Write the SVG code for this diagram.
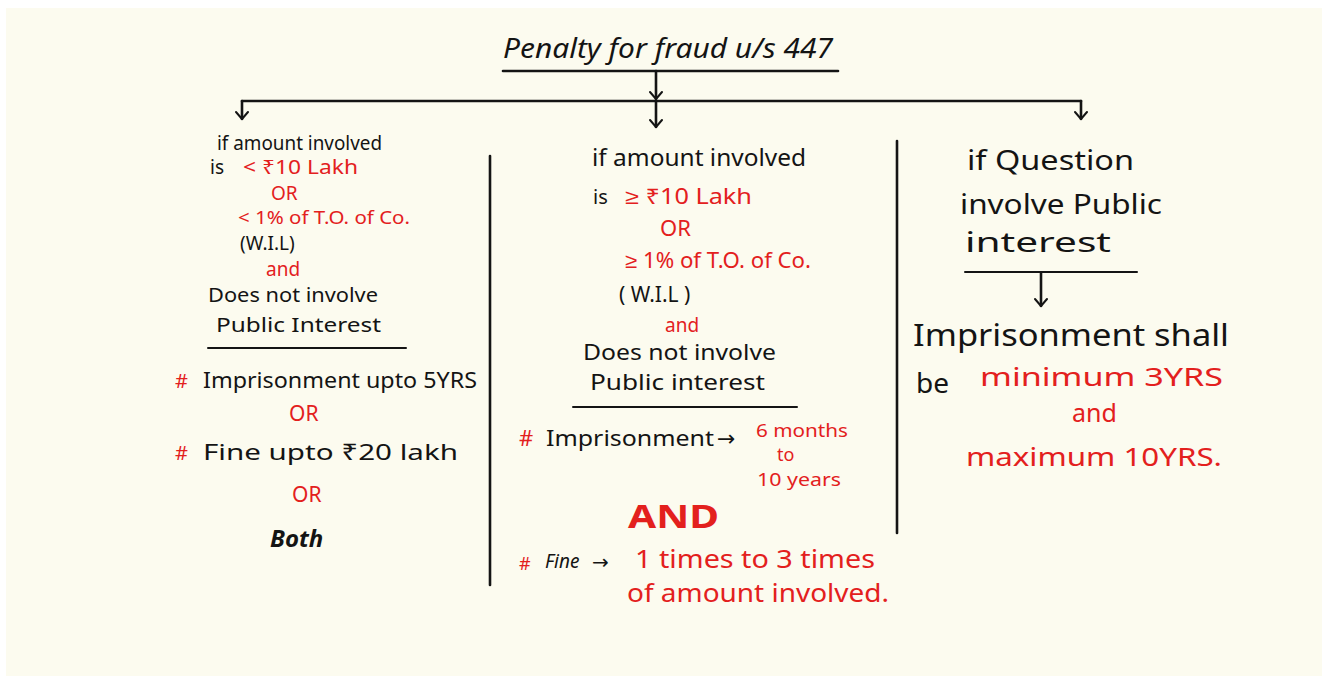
<svg xmlns="http://www.w3.org/2000/svg" width="1322" height="681" viewBox="0 0 1322 681">
  <defs>
    <style>
      text { font-family: "Noto Sans", "Liberation Sans", sans-serif; fill: #141414; }
      .r { fill: #e3201d; }
      .ar { font-family: "DejaVu Sans", sans-serif; }
      .line { stroke: #141414; stroke-width: 2.6; fill: none; stroke-linecap: round; }
      .thin { stroke: #141414; stroke-width: 2; fill: none; stroke-linecap: round; }
    </style>
    <marker id="arrv" viewBox="0 0 14 14" refX="7" refY="12" markerWidth="14" markerHeight="14" markerUnits="userSpaceOnUse" orient="0">
      <path d="M1 5 L7 12 L13 5" fill="none" stroke="#141414" stroke-width="2" stroke-linecap="round" stroke-linejoin="round"/>
    </marker>
  </defs>

  <rect x="0" y="0" width="1322" height="681" fill="#ffffff"/>
  <rect x="6" y="8" width="1316" height="668" fill="#fcfbef"/>

  <!-- title -->
  <g id="title">
    <text x="503" y="58" font-size="28" textLength="330" lengthAdjust="spacingAndGlyphs" font-style="italic">Penalty for fraud u/s 447</text>
    <line class="line" x1="503" y1="71" x2="838" y2="71"/>
  </g>

  <!-- connectors -->
  <g id="connectors">
    <line class="line" x1="656" y1="71" x2="656" y2="99" marker-end="url(#arrv)"/>
    <line class="line" x1="242" y1="101" x2="1081" y2="101"/>
    <line class="line" x1="242" y1="101" x2="242" y2="119" marker-end="url(#arrv)"/>
    <line class="line" x1="656" y1="101" x2="656" y2="127" marker-end="url(#arrv)"/>
    <line class="line" x1="1081" y1="101" x2="1081" y2="119" marker-end="url(#arrv)"/>
    <line class="line" x1="490" y1="156" x2="490" y2="585"/>
    <line class="line" x1="897" y1="141" x2="897" y2="533"/>
    <line class="line" x1="1041" y1="273" x2="1041" y2="306" marker-end="url(#arrv)"/>
  </g>

  <!-- left: below threshold -->
  <g id="left-node">
    <text x="217" y="150" font-size="19" textLength="165" lengthAdjust="spacingAndGlyphs">if amount involved</text>
    <text x="210" y="174" font-size="19">is</text>
    <text x="243" y="174" font-size="19" class="r" textLength="115" lengthAdjust="spacingAndGlyphs">&lt; ₹10 Lakh</text>
    <text x="271" y="200" font-size="19" class="r">OR</text>
    <text x="238" y="224" font-size="18" class="r" textLength="172" lengthAdjust="spacingAndGlyphs">&lt; 1% of T.O. of Co.</text>
    <text x="240" y="250" font-size="19">(W.I.L)</text>
    <text x="266" y="276" font-size="19" class="r">and</text>
    <text x="208" y="302" font-size="19" textLength="170" lengthAdjust="spacingAndGlyphs">Does not involve</text>
    <text x="216" y="332" font-size="19" textLength="165" lengthAdjust="spacingAndGlyphs">Public Interest</text>
    <line class="thin" x1="208" y1="348" x2="406" y2="348"/>
  </g>

  <g id="left-result">
    <text x="175" y="388" font-size="20" class="r">#</text>
    <text x="203" y="388" font-size="21" textLength="274" lengthAdjust="spacingAndGlyphs">Imprisonment upto 5YRS</text>
    <text x="289" y="421" font-size="21" class="r">OR</text>
    <text x="175" y="460" font-size="20" class="r">#</text>
    <text x="203" y="460" font-size="22" textLength="255" lengthAdjust="spacingAndGlyphs">Fine upto ₹20 lakh</text>
    <text x="292" y="502" font-size="21" class="r">OR</text>
    <text x="270" y="547" font-size="24" font-weight="bold" font-style="italic">Both</text>
  </g>

  <!-- middle: at or above threshold -->
  <g id="middle-node">
    <text x="592" y="166" font-size="23" textLength="214" lengthAdjust="spacingAndGlyphs">if amount involved</text>
    <text x="593" y="204" font-size="20">is</text>
    <text x="625" y="204" font-size="21" class="r" textLength="127" lengthAdjust="spacingAndGlyphs">≥ ₹10 Lakh</text>
    <text x="660" y="236" font-size="22" class="r">OR</text>
    <text x="625" y="268" font-size="21" class="r" textLength="186" lengthAdjust="spacingAndGlyphs">≥ 1% of T.O. of Co.</text>
    <text x="619" y="302" font-size="21">( W.I.L )</text>
    <text x="665" y="332" font-size="19" class="r">and</text>
    <text x="583" y="360" font-size="21" textLength="193" lengthAdjust="spacingAndGlyphs">Does not involve</text>
    <text x="590" y="390" font-size="21" textLength="175" lengthAdjust="spacingAndGlyphs">Public interest</text>
    <line class="thin" x1="573" y1="407" x2="797" y2="407"/>
  </g>

  <g id="middle-result">
    <text x="519" y="446" font-size="22" class="r">#</text>
    <text x="546" y="446" font-size="21" textLength="168" lengthAdjust="spacingAndGlyphs">Imprisonment</text>
    <text x="717" y="446" font-size="22" class="ar">→</text>
    <text x="756" y="437" font-size="18" class="r" textLength="92" lengthAdjust="spacingAndGlyphs">6 months</text>
    <text x="777" y="461" font-size="18" class="r">to</text>
    <text x="757" y="486" font-size="18" class="r" textLength="84" lengthAdjust="spacingAndGlyphs">10 years</text>
    <text x="628" y="528" font-size="33" font-weight="bold" class="r" textLength="91" lengthAdjust="spacingAndGlyphs">AND</text>
    <text x="519" y="570" font-size="18" class="r">#</text>
    <text x="545" y="568" font-size="19" font-style="italic">Fine</text>
    <text x="592" y="569" font-size="20" class="ar">→</text>
    <text x="635" y="568" font-size="25" class="r" textLength="240" lengthAdjust="spacingAndGlyphs">1 times to 3 times</text>
    <text x="627" y="602" font-size="25" class="r" textLength="262" lengthAdjust="spacingAndGlyphs">of amount involved.</text>
  </g>

  <!-- right: public interest -->
  <g id="right-node">
    <text x="967" y="170" font-size="28" textLength="167" lengthAdjust="spacingAndGlyphs">if Question</text>
    <text x="960" y="214" font-size="27" textLength="202" lengthAdjust="spacingAndGlyphs">involve Public</text>
    <text x="965" y="252" font-size="27" textLength="146" lengthAdjust="spacingAndGlyphs">interest</text>
    <line class="thin" x1="965" y1="272" x2="1137" y2="272"/>
  </g>

  <g id="right-result">
    <text x="913" y="346" font-size="30" textLength="316" lengthAdjust="spacingAndGlyphs">Imprisonment shall</text>
    <text x="916" y="393" font-size="28">be</text>
    <text x="980" y="386" font-size="25" class="r" textLength="243" lengthAdjust="spacingAndGlyphs">minimum 3YRS</text>
    <text x="1072" y="422" font-size="25" class="r">and</text>
    <text x="966" y="466" font-size="26" class="r" textLength="256" lengthAdjust="spacingAndGlyphs">maximum 10YRS.</text>
  </g>
</svg>
